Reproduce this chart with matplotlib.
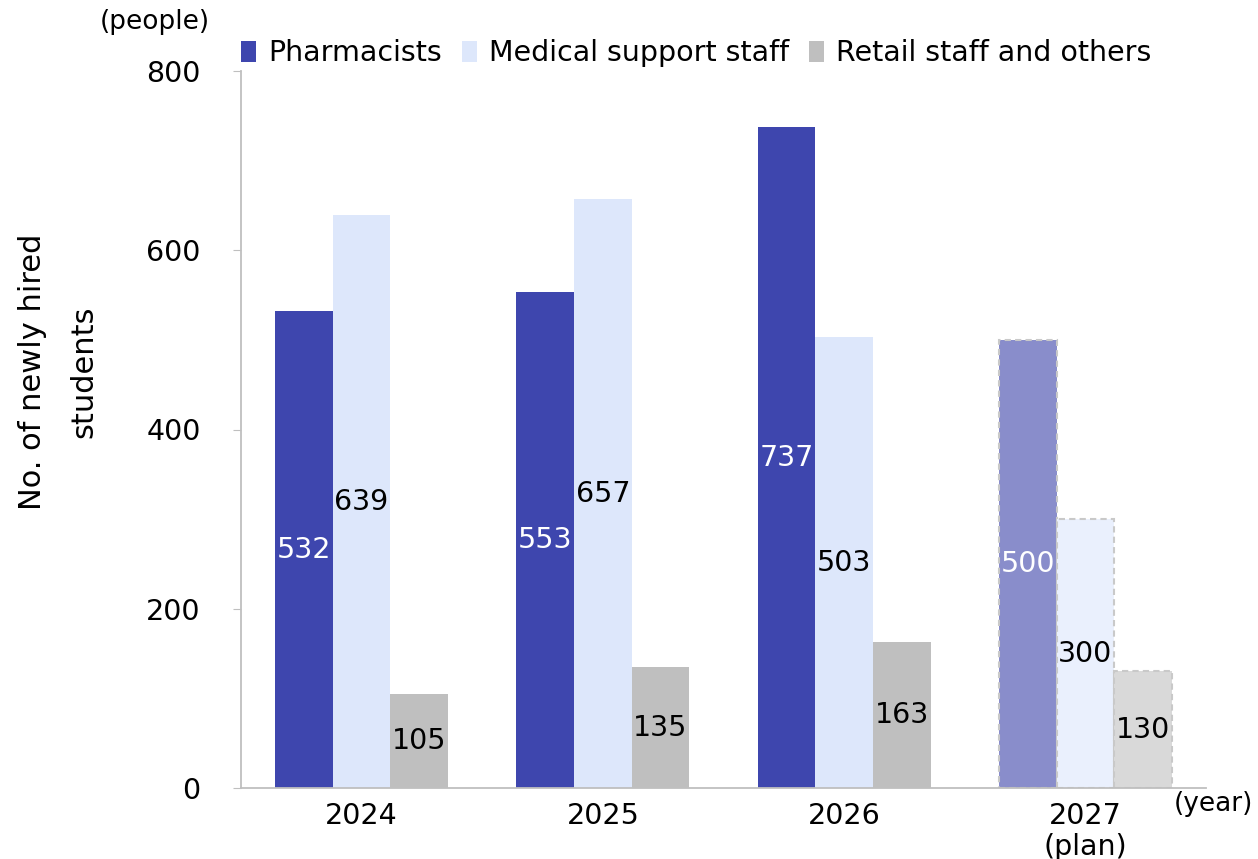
import numpy as np
import matplotlib
matplotlib.use("Agg")
import matplotlib.pyplot as plt

# hiring numbers per year
years = ["2024", "2025", "2026", "2027\n(plan)"]
pharmacists = [532, 553, 737, 500]
medical_support = [639, 657, 503, 300]
retail = [105, 135, 163, 130]
series_names = ["Pharmacists", "Medical support staff", "Retail staff and others"]

plt.rcParams['font.family'] = ['DejaVu Sans']

fig = plt.figure(figsize=(12.58, 8.59), dpi=100)
ax = fig.add_axes([241 / 1258, 71 / 859, (1206 - 241) / 1258, (788 - 71) / 859])

x = np.arange(len(years))
w = 0.239
colors = ["#3E46AE", "#DDE7FB", "#BFBFBF"]
plan_colors = ["#898DCB", "#EAF0FD", "#D9D9D9"]
txt_colors = ["white", "black", "black"]

for i, vals in enumerate([pharmacists, medical_support, retail]):
    pos = x + (i - 1) * w
    fc = [colors[i]] * 3 + [plan_colors[i]]
    bars = ax.bar(pos, vals, width=w, color=fc, label=series_names[i], zorder=2)
    # planned year gets dashed outline
    bars[-1].set_edgecolor("#C9C9C9")
    bars[-1].set_linestyle((0, (3, 2)))
    bars[-1].set_linewidth(1.5)
    for p, v in zip(pos, vals):
        ax.text(p, v / 2, str(v), ha="center", va="center", fontsize=20.5,
                color=txt_colors[i], zorder=3)

ax.set_xlim(-0.5, 3.5)
ax.set_ylim(0, 800)
ax.set_yticks([0, 200, 400, 600, 800])
ax.set_xticks(x)
ax.set_xticklabels(years, fontsize=20.5, linespacing=1.15)
ax.tick_params(axis="y", labelsize=20.5, length=6, color="#BFBFBF", pad=23)
ax.tick_params(axis="x", length=0, pad=10)
for s in ["top", "right"]:
    ax.spines[s].set_visible(False)
for s in ["left", "bottom"]:
    ax.spines[s].set_color("#BFBFBF")
    ax.spines[s].set_linewidth(1.3)

ax.set_ylabel("No. of newly hired\nstudents", fontsize=22, linespacing=1.95)
ax.yaxis.set_label_coords(-0.148, 0.58)

fig.text(155 / 1258, 1 - 22 / 859, "(people)", fontsize=19, ha="center", va="center")
fig.text(1213 / 1258, 1 - 804 / 859, "(year)", fontsize=19, ha="center", va="center")

leg = ax.legend(loc="upper left", bbox_to_anchor=(-0.012, 1.06), ncol=3, frameon=False,
                fontsize=20.5, handlelength=0.55, handleheight=0.8, handletextpad=0.4,
                columnspacing=0.7, borderaxespad=0)

fig.savefig("out.png", dpi=100)
